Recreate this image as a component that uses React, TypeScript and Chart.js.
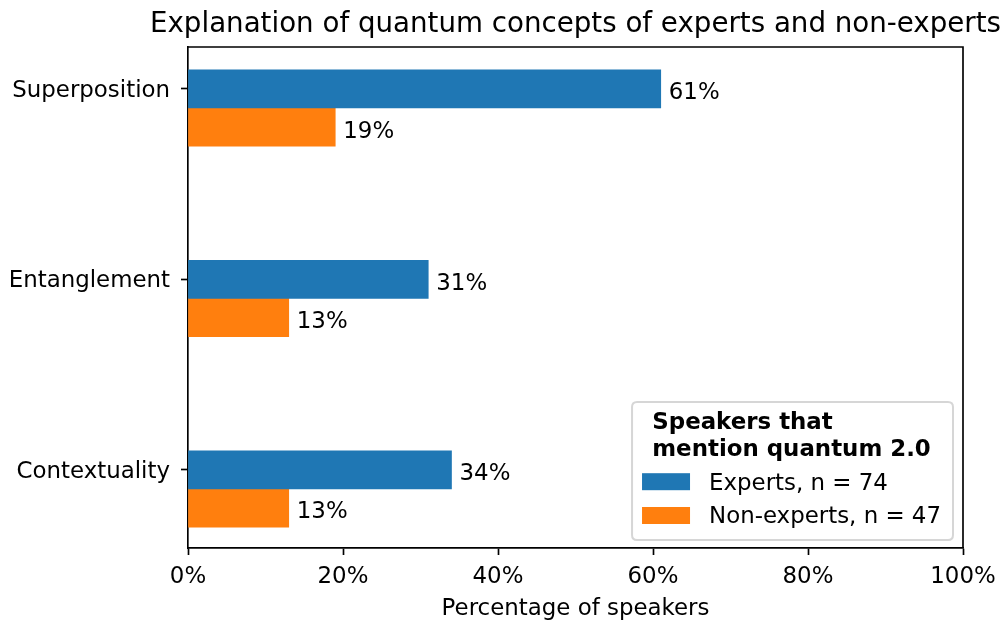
import React, { useEffect, useRef } from 'react';
import { Chart, registerables } from 'chart.js';

Chart.register(...registerables);

const categories = ['Superposition', 'Entanglement', 'Contextuality'];
const experts = [61, 31, 34];
const nonExperts = [19, 13, 13];
const seriesLabels = ['Experts, n = 74', 'Non-experts, n = 47'];
const xTicks = [0, 20, 40, 60, 80, 100];
const chartTitle = 'Explanation of quantum concepts of experts and non-experts';
const xTitle = 'Percentage of speakers';
const legendTitle = ['Speakers that', 'mention quantum 2.0'];
const BAR_H = 0.2;
const colors = ['#1f77b4', '#ff7f0e'];
const FAMILY = "'DejaVu Sans', sans-serif";
const FS = 22.9;

const overlay = {
  id: 'overlay',
  afterDraw(chart: any) {
    const ctx = chart.ctx as CanvasRenderingContext2D;
    const { left, right, top, bottom } = chart.chartArea;
    ctx.save();
    // frame (top and right spines)
    ctx.strokeStyle = '#000';
    ctx.lineWidth = 1.67;
    ctx.beginPath();
    ctx.moveTo(left, top);
    ctx.lineTo(right, top);
    ctx.lineTo(right, bottom);
    ctx.stroke();

    // bar labels
    ctx.fillStyle = '#000';
    ctx.font = `${FS}px ${FAMILY}`;
    ctx.textAlign = 'left';
    ctx.textBaseline = 'alphabetic';
    chart.data.datasets.forEach((ds: any, di: number) => {
      const meta = chart.getDatasetMeta(di);
      meta.data.forEach((el: any, i: number) => {
        const v = ds.data[i].x;
        ctx.fillText(`${v}%`, el.x + 8, el.y + 10.5);
      });
    });

    // title
    ctx.textAlign = 'center';
    ctx.font = `27.7px ${FAMILY}`;
    ctx.fillText(chartTitle, (left + right) / 2, 32);

    // x axis title
    ctx.font = `${FS}px ${FAMILY}`;
    ctx.fillText(xTitle, (left + right) / 2, 615);

    // legend
    const padL = 10;
    const padR = 12;
    const handleW = 48;
    const handleH = 17;
    const textGap = 19;
    ctx.font = `bold ${FS}px ${FAMILY}`;
    const titleW = Math.max(...legendTitle.map((t) => ctx.measureText(t).width));
    ctx.font = `${FS}px ${FAMILY}`;
    const textW = Math.max(...seriesLabels.map((t) => ctx.measureText(t).width));
    const entryW = handleW + textGap + textW;
    const contentW = Math.max(titleW, entryW);
    const boxW = contentW + padL + padR;
    const boxH = 138;
    const boxR = right - 10;
    const boxB = bottom - 8;
    const boxL = boxR - boxW;
    const boxT = boxB - boxH;
    const r = 5;
    ctx.beginPath();
    ctx.moveTo(boxL + r, boxT);
    ctx.lineTo(boxR - r, boxT);
    ctx.quadraticCurveTo(boxR, boxT, boxR, boxT + r);
    ctx.lineTo(boxR, boxB - r);
    ctx.quadraticCurveTo(boxR, boxB, boxR - r, boxB);
    ctx.lineTo(boxL + r, boxB);
    ctx.quadraticCurveTo(boxL, boxB, boxL, boxB - r);
    ctx.lineTo(boxL, boxT + r);
    ctx.quadraticCurveTo(boxL, boxT, boxL + r, boxT);
    ctx.closePath();
    ctx.fillStyle = 'rgba(255,255,255,0.8)';
    ctx.fill();
    ctx.strokeStyle = 'rgba(204,204,204,0.8)';
    ctx.lineWidth = 2;
    ctx.stroke();

    const contentL = boxL + padL;
    ctx.fillStyle = '#000';
    ctx.font = `bold ${FS}px ${FAMILY}`;
    ctx.textAlign = 'left';
    const titleX = contentL + (contentW - titleW) / 2;
    ctx.fillText(legendTitle[0], titleX, boxB - 110.7);
    ctx.fillText(legendTitle[1], titleX, boxB - 84.3);

    ctx.font = `${FS}px ${FAMILY}`;
    const centers = [boxB - 58.3, boxB - 24.5];
    const baselines = [boxB - 50, boxB - 16.7];
    seriesLabels.forEach((lab, i) => {
      ctx.fillStyle = colors[i];
      ctx.fillRect(contentL, centers[i] - handleH / 2, handleW, handleH);
      ctx.fillStyle = '#000';
      ctx.fillText(lab, contentL + handleW + textGap, baselines[i]);
    });
    ctx.restore();
  },
};

export default function App() {
  const ref = useRef<HTMLCanvasElement | null>(null);
  useEffect(() => {
    document.body.style.margin = '0';
    const canvas = ref.current;
    if (!canvas) return;
    const tickFont = { family: FAMILY, size: FS };
    const chart = new Chart(canvas, {
      type: 'bar',
      data: {
        datasets: [
          {
            label: seriesLabels[0],
            data: categories.map((_, i) => ({ x: experts[i], y: i })),
            backgroundColor: colors[0],
            grouped: false,
            categoryPercentage: 1,
            barPercentage: 1,
          } as any,
          {
            label: seriesLabels[1],
            data: categories.map((_, i) => ({ x: nonExperts[i], y: i + BAR_H })),
            backgroundColor: colors[1],
            grouped: false,
            categoryPercentage: 1,
            barPercentage: 1,
          } as any,
        ],
      },
      options: {
        indexAxis: 'y',
        animation: false,
        responsive: false,
        maintainAspectRatio: false,
        layout: { padding: { top: 47, right: 45, left: 0, bottom: 0 } },
        scales: {
          x: {
            type: 'linear',
            min: 0,
            max: 100,
            offset: false,
            afterBuildTicks: (s: any) => {
              s.ticks = xTicks.map((v) => ({ value: v }));
            },
            afterFit: (s: any) => {
              s.height = 77;
            },
            ticks: {
              callback: (v: any) => `${v}%`,
              font: tickFont,
              color: '#000',
              padding: 8,
              maxRotation: 0,
              autoSkip: false,
            },
            grid: {
              drawOnChartArea: false,
              offset: false,
              tickLength: 7,
              tickWidth: 1.67,
              tickColor: '#000',
            },
            border: { display: true, color: '#000', width: 1.67 },
          },
          y: {
            type: 'linear',
            reverse: true,
            min: -0.22,
            max: 2.41,
            offset: false,
            afterBuildTicks: (s: any) => {
              s.ticks = categories.map((_, i) => ({ value: i }));
            },
            afterFit: (s: any) => {
              s.width = 188;
            },
            ticks: {
              callback: (v: any) => categories[v as number] ?? '',
              font: tickFont,
              color: '#000',
              padding: 11,
              labelOffset: 2,
              autoSkip: false,
            },
            grid: {
              drawOnChartArea: false,
              offset: false,
              tickLength: 7,
              tickWidth: 1.67,
              tickColor: '#000',
            },
            border: { display: true, color: '#000', width: 1.67 },
          },
        },
        plugins: {
          legend: { display: false },
          tooltip: { enabled: false },
          title: { display: false },
        },
      } as any,
      plugins: [overlay],
    });
    return () => chart.destroy();
  }, []);
  return <canvas ref={ref} width={1008} height={625} style={{ display: 'block' }} />;
}
